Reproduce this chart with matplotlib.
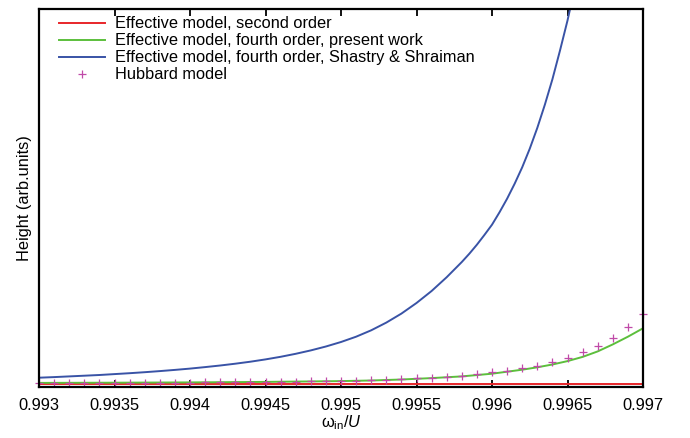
import matplotlib
matplotlib.use('Agg')
import matplotlib.pyplot as plt

plt.rcParams['font.family'] = ['Liberation Sans', 'DejaVu Sans']
plt.rcParams['mathtext.fontset'] = 'custom'
plt.rcParams['mathtext.rm'] = 'Liberation Sans'
plt.rcParams['mathtext.it'] = 'Liberation Sans:italic'

# omega_in / U
x_red = [0.9930, 0.9950, 0.9970]
y_red = [3.0, 3.0, 3.0]

x_green = [0.9930, 0.9935, 0.9940, 0.9945, 0.9950, 0.9952, 0.9954, 0.9956,
           0.9958, 0.9960, 0.9962, 0.9963, 0.9964, 0.9965, 0.9966, 0.9967,
           0.9968, 0.9969, 0.9970]
y_green = [3.8, 4.0, 4.3, 4.8, 5.6, 6.2, 7.2, 8.6,
           10.3, 13.0, 17.0, 19.4, 22.2, 25.6, 29.8, 35.3,
           42.3, 50.0, 58.4]

x_blue = [0.9930, 0.9931, 0.9932, 0.9933, 0.9934, 0.9935, 0.9936, 0.9937,
          0.9938, 0.9939, 0.9940, 0.9941, 0.9942, 0.9943, 0.9944, 0.9945,
          0.9946, 0.9947, 0.9948, 0.9949, 0.9950, 0.9951, 0.9952, 0.9953,
          0.9954, 0.9955, 0.9956, 0.9957, 0.9958, 0.99585, 0.9959, 0.99595,
          0.9960, 0.99605, 0.9961, 0.99615, 0.9962, 0.99625, 0.9963, 0.99635,
          0.9964, 0.99645, 0.9965, 0.99655, 0.9966]
y_blue = [9.0, 9.6, 10.3, 11.0, 11.7, 12.6, 13.5, 14.5,
          15.6, 16.8, 18.1, 19.6, 21.2, 23.0, 25.0, 27.3,
          29.9, 32.9, 36.3, 40.2, 44.7, 50.0, 56.4, 64.1,
          73.1, 83.7, 95.7, 109.5, 124.7, 133.0, 142.0, 151.8,
          162.0, 174.5, 188.0, 203.0, 219.4, 238.0, 258.8, 282.0,
          307.4, 336.0, 366.2, 400.0, 438.5]

x_hub = [0.9930, 0.9931, 0.9932, 0.9933, 0.9934, 0.9935, 0.9936, 0.9937,
         0.9938, 0.9939, 0.9940, 0.9941, 0.9942, 0.9943, 0.9944, 0.9945,
         0.9946, 0.9947, 0.9948, 0.9949, 0.9950, 0.9951, 0.9952, 0.9953,
         0.9954, 0.9955, 0.9956, 0.9957, 0.9958, 0.9959, 0.9960, 0.9961,
         0.9962, 0.9963, 0.9964, 0.9965, 0.9966, 0.9967, 0.9968, 0.9969,
         0.9970]
y_hub = [3.5, 3.6, 3.6, 3.7, 3.7, 3.8, 3.9, 3.9,
         4.0, 4.1, 4.2, 4.3, 4.4, 4.5, 4.6, 4.8,
         4.9, 5.1, 5.3, 5.5, 5.8, 6.1, 6.6, 7.2,
         7.8, 8.5, 9.2, 10.2, 11.2, 12.5, 14.5, 16.2,
         18.5, 21.2, 24.8, 28.8, 34.5, 41.2, 49.2, 59.5,
         72.8]

xticks = [0.993, 0.9935, 0.994, 0.9945, 0.995, 0.9955, 0.996, 0.9965, 0.997]
xtick_labels = ['0.993', '0.9935', '0.994', '0.9945', '0.995', '0.9955', '0.996', '0.9965', '0.997']

fig = plt.figure(figsize=(6.9, 4.38), dpi=100)
ax = fig.add_axes([39 / 690, 1 - 386.7 / 438, 604 / 690, 377.4 / 438])

ax.plot(x_red, y_red, color='#e8262a', lw=1.4, label='Effective model, second order')
ax.plot(x_green, y_green, color='#5cbf3c', lw=1.4, label='Effective model, fourth order, present work')
ax.plot(x_blue, y_blue, color='#3953a6', lw=1.4, label='Effective model, fourth order, Shastry & Shraiman')
ax.plot(x_hub, y_hub, ls='none', marker='+', ms=6, mew=0.9, color='#c04aa8', label='Hubbard model',
        clip_on=False)

ax.set_xlim(0.993, 0.997)
ax.set_ylim(0, 377.4)
ax.set_xticks(xticks)
ax.set_xticklabels(xtick_labels)
ax.set_yticks([])
ax.tick_params(axis='x', direction='in', top=True, length=5, width=1.3, labelsize=11.8, pad=8)
for s in ax.spines.values():
    s.set_linewidth(1.6)

ax.set_xlabel(r'ω$_{\mathrm{in}}$/$U$', fontsize=11.8, labelpad=0)
ax.set_ylabel('Height (arb.units)', fontsize=11.8, labelpad=5)

ax.legend(loc='upper left', bbox_to_anchor=(0.033, 0.981), frameon=False, fontsize=11.8,
          handlelength=2.8, handletextpad=0.65, labelspacing=0.12, borderpad=0, borderaxespad=0)

fig.savefig('out.png', dpi=100)
